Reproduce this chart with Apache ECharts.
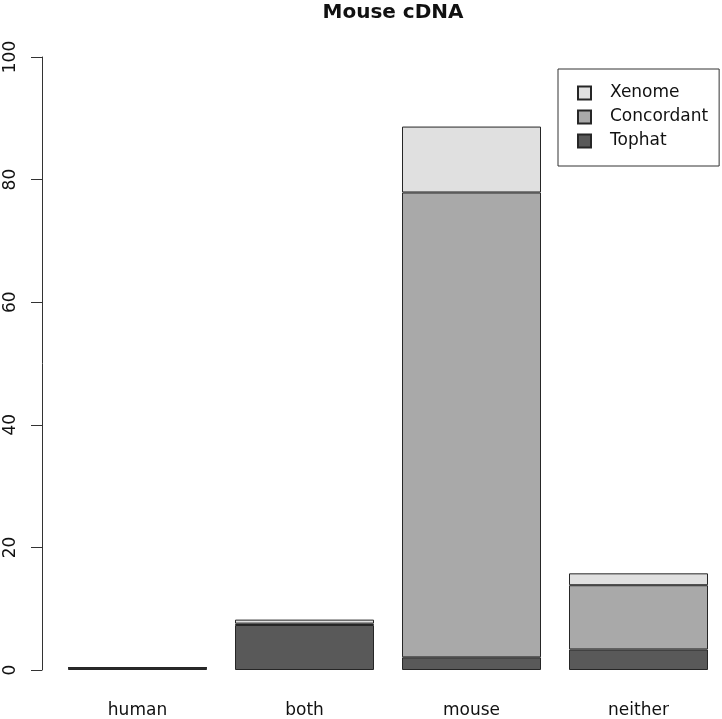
<!DOCTYPE html>
<html>
<head>
<meta charset="utf-8">
<script src="https://cdn.jsdelivr.net/npm/echarts@6/dist/echarts.min.js"></script>
<style>html,body{margin:0;padding:0;background:#fff}#c{width:722px;height:719px}</style>
</head>
<body>
<div id="c"></div>
<script>
const categories = ['human', 'both', 'mouse', 'neither'];
const tophat = [0.3, 7.34, 2.06, 3.35];
const concordant = [0.05, 0.23, 75.84, 10.48];
const xenome = [0.05, 0.65, 10.75, 1.94];
const yTicks = [0, 20, 40, 60, 80, 100];

const chart = echarts.init(document.getElementById('c'), null, {renderer: 'canvas'});
const FONT = 'DejaVu Sans';
const border = {borderColor: '#262626', borderWidth: 1};
chart.setOption({
  animation: false,
  backgroundColor: '#fff',
  title: {
    text: 'Mouse cDNA', left: 388, textAlign: 'center', top: -2,
    textStyle: {fontFamily: FONT, fontWeight: 'bold', fontSize: 20, color: '#111'}
  },
  legend: {
    orient: 'vertical', left: 558, top: 69,
    data: ['Xenome', 'Concordant', 'Tophat'],
    itemWidth: 13, itemHeight: 13, itemGap: 6,
    padding: [15, 11, 16, 19],
    borderColor: '#333', borderWidth: 1,
    icon: 'rect',
    textStyle: {fontFamily: FONT, fontSize: 17, color: '#111', lineHeight: 18, padding: [0, 0, 0, 14]}
  },
  grid: {left: 54, right: 0, top: 57, bottom: 44.5, containLabel: false},
  xAxis: {
    type: 'category', data: categories,
    axisLine: {show: false}, axisTick: {show: false},
    axisLabel: {fontFamily: FONT, fontSize: 17, color: '#111', margin: 32}
  },
  yAxis: {
    type: 'value', min: yTicks[0], max: yTicks[yTicks.length - 1], interval: 20,
    offset: 12,
    axisLine: {show: true, lineStyle: {color: '#333', width: 1}},
    axisTick: {show: true, length: 11, lineStyle: {color: '#333'}},
    splitLine: {show: false},
    axisLabel: {rotate: 90, fontFamily: FONT, fontSize: 17, color: '#111', margin: 23}
  },
  series: [
    {name: 'Tophat', type: 'bar', stack: 's', data: tophat, barWidth: 139,
      itemStyle: Object.assign({color: '#595959'}, border)},
    {name: 'Concordant', type: 'bar', stack: 's', data: concordant, barWidth: 139,
      itemStyle: Object.assign({color: '#a9a9a9'}, border)},
    {name: 'Xenome', type: 'bar', stack: 's', data: xenome, barWidth: 139,
      itemStyle: Object.assign({color: '#e0e0e0'}, border)}
  ]
});
</script>
</body>
</html>
